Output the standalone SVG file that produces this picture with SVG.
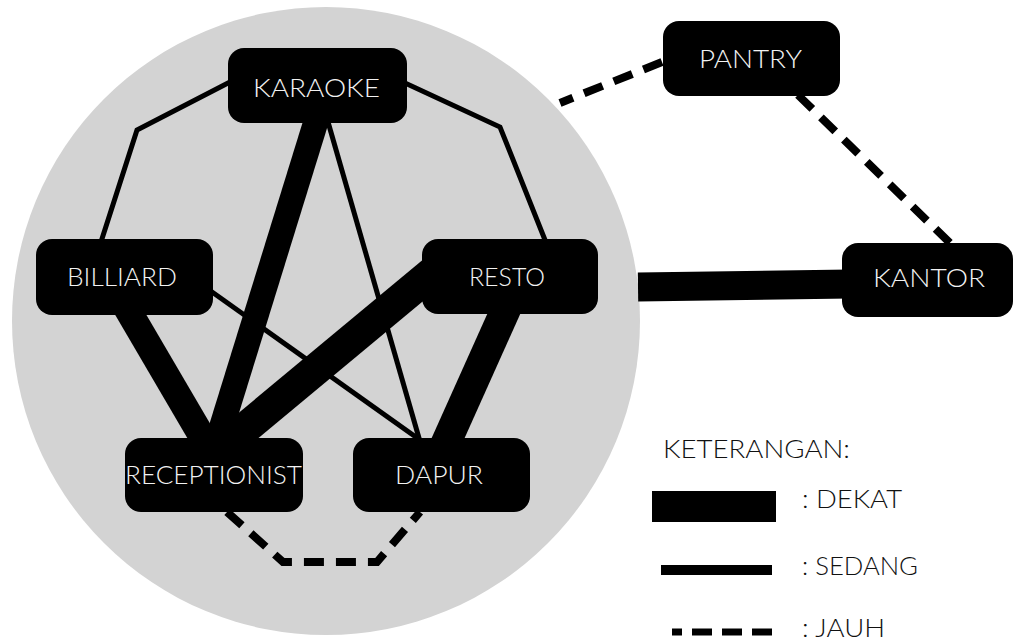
<svg xmlns="http://www.w3.org/2000/svg" width="1014" height="642" viewBox="0 0 1014 642">
  <style>
    .node rect { fill: #000; }
    .node text { fill: #f2f2f2; font-family: Lato, "Liberation Sans", sans-serif; font-weight: 300; font-size: 26px; text-anchor: middle; }
    .thin { fill: none; stroke: #000; stroke-width: 5; stroke-linejoin: miter; }
    .thick { fill: none; stroke: #000; stroke-linecap: butt; }
    .dash { fill: none; stroke: #000; stroke-width: 8; stroke-dasharray: 20 12; }
    .legend { fill: #111; font-family: Lato, "Liberation Sans", sans-serif; font-weight: 300; font-size: 26px; }
  </style>
  <rect x="0" y="0" width="1014" height="642" fill="#ffffff"/>
  <circle id="zone" cx="326" cy="321" r="314" fill="#d3d3d3"/>

  <g id="connectors">
    <polyline class="thin" points="230,82 137,130 100,245"/>
    <polyline class="thin" points="405,83 500,127 547,245"/>
    <line class="thin" x1="326" y1="115" x2="421" y2="445"/>
    <line class="thin" x1="205" y1="287" x2="420" y2="440"/>
    <line class="thick" x1="318" y1="115" x2="216" y2="445" stroke-width="25"/>
    <line class="thick" x1="125" y1="305" x2="207" y2="445" stroke-width="27"/>
    <line class="thick" x1="450" y1="258" x2="225" y2="445" stroke-width="32"/>
    <line class="thick" x1="510" y1="300" x2="445" y2="445" stroke-width="30"/>
    <line class="thick" x1="638" y1="287" x2="850" y2="284" stroke-width="29"/>
    <line class="dash" x1="662" y1="62" x2="560" y2="103"/>
    <line class="dash" x1="798" y1="95" x2="952" y2="245"/>
    <polyline class="dash" points="227,512 283,562 377,562 420,512"/>
  </g>

  <g id="karaoke" class="node">
    <rect x="228" y="48" width="179" height="75" rx="16"/>
    <text x="316.5" y="97" textLength="127" lengthAdjust="spacingAndGlyphs">KARAOKE</text>
  </g>
  <g id="billiard" class="node">
    <rect x="36" y="239" width="177" height="76" rx="16"/>
    <text x="122" y="286" textLength="110" lengthAdjust="spacingAndGlyphs">BILLIARD</text>
  </g>
  <g id="resto" class="node">
    <rect x="422" y="239" width="176" height="75" rx="16"/>
    <text x="507" y="286" textLength="76" lengthAdjust="spacingAndGlyphs">RESTO</text>
  </g>
  <g id="receptionist" class="node">
    <rect x="125" y="438" width="178" height="74" rx="16"/>
    <text x="213.5" y="484" textLength="177" lengthAdjust="spacingAndGlyphs">RECEPTIONIST</text>
  </g>
  <g id="dapur" class="node">
    <rect x="353" y="438" width="177" height="74" rx="16"/>
    <text x="439" y="484" textLength="88" lengthAdjust="spacingAndGlyphs">DAPUR</text>
  </g>
  <g id="pantry" class="node">
    <rect x="663" y="21" width="177" height="75" rx="16"/>
    <text x="750.5" y="68" textLength="103" lengthAdjust="spacingAndGlyphs">PANTRY</text>
  </g>
  <g id="kantor" class="node">
    <rect x="842" y="243" width="171" height="74" rx="16"/>
    <text x="929" y="287" textLength="112" lengthAdjust="spacingAndGlyphs">KANTOR</text>
  </g>

  <g id="legend">
    <text class="legend" x="663" y="458" textLength="187" lengthAdjust="spacingAndGlyphs">KETERANGAN:</text>
    <rect x="652" y="491" width="124" height="31" fill="#000"/>
    <text class="legend" x="802" y="508" textLength="100" lengthAdjust="spacingAndGlyphs">: DEKAT</text>
    <rect x="661" y="565" width="111" height="10" fill="#000"/>
    <text class="legend" x="802" y="575" textLength="116" lengthAdjust="spacingAndGlyphs">: SEDANG</text>
    <line x1="772" y1="632" x2="672" y2="632" stroke="#000" stroke-width="7" stroke-dasharray="20 10"/>
    <text class="legend" x="802" y="637" textLength="83" lengthAdjust="spacingAndGlyphs">: JAUH</text>
  </g>
</svg>
